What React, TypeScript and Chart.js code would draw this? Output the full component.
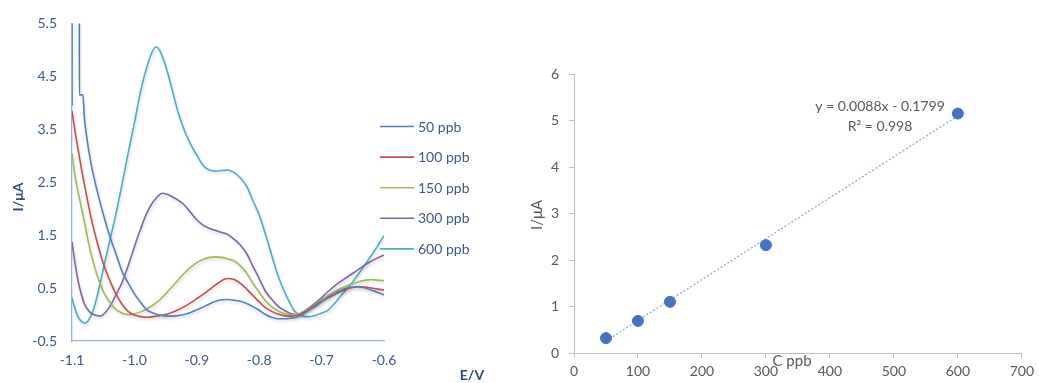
import { useEffect, useRef } from 'react';
import { Chart, registerables } from 'chart.js';

Chart.register(...registerables);

type Pt = [number, number];

// Voltammogram axes: potential (V) and current (µA) tick values
const potentialTicks = [-1.1, -1.0, -0.9, -0.8, -0.7, -0.6];
const currentTicks = [-0.5, 0.5, 1.5, 2.5, 3.5, 4.5, 5.5];

const seriesLabels = ['50 ppb', '100 ppb', '150 ppb', '300 ppb', '600 ppb'];
const seriesColors = ['#4F81BD', '#C0504D', '#9BBB59', '#8064A2', '#4BACC6'];

// [E (V), I (µA)] pairs for each concentration
const curve50: Pt[] = [
  [-1.1, 3.95], [-1.0998, 9], [-1.0885, 9], [-1.0881, 4.15], [-1.0825, 4.15],
  [-1.0803, 3.74], [-1.0774, 3.43], [-1.07, 2.88], [-1.06, 2.35], [-1.05, 1.9],
  [-1.04, 1.5], [-1.03, 1.16], [-1.02, 0.82], [-1.01, 0.6], [-1.0, 0.39],
  [-0.99, 0.23], [-0.98, 0.09], [-0.97, 0.03], [-0.96, -0.01], [-0.95, -0.03],
  [-0.94, -0.03], [-0.93, -0.02], [-0.92, 0.0], [-0.91, 0.04], [-0.9, 0.09],
  [-0.89, 0.14], [-0.88, 0.2], [-0.87, 0.25], [-0.86, 0.28], [-0.85, 0.285],
  [-0.84, 0.27], [-0.83, 0.25], [-0.82, 0.21], [-0.81, 0.15], [-0.8, 0.08],
  [-0.79, 0.0], [-0.78, -0.05], [-0.77, -0.08], [-0.76, -0.08], [-0.75, -0.07],
  [-0.74, -0.05], [-0.73, 0.0], [-0.72, 0.08], [-0.71, 0.15], [-0.7, 0.24],
  [-0.69, 0.33], [-0.68, 0.4], [-0.67, 0.46], [-0.66, 0.5], [-0.65, 0.52],
  [-0.64, 0.52], [-0.63, 0.5], [-0.62, 0.46], [-0.61, 0.42], [-0.6, 0.37],
];

const curve100: Pt[] = [
  [-1.1, 3.85], [-1.095, 3.45], [-1.09, 3.1], [-1.085, 2.76], [-1.08, 2.45],
  [-1.07, 1.86], [-1.06, 1.38], [-1.05, 0.97], [-1.04, 0.66], [-1.03, 0.4],
  [-1.02, 0.2], [-1.01, 0.06], [-1.0, -0.01], [-0.99, -0.04], [-0.98, -0.05],
  [-0.97, -0.04], [-0.96, -0.02], [-0.95, 0.0], [-0.94, 0.04], [-0.93, 0.09],
  [-0.92, 0.15], [-0.91, 0.22], [-0.9, 0.3], [-0.89, 0.38], [-0.88, 0.47],
  [-0.87, 0.56], [-0.86, 0.64], [-0.855, 0.67], [-0.85, 0.68], [-0.84, 0.66],
  [-0.83, 0.59], [-0.82, 0.48], [-0.81, 0.36], [-0.8, 0.24], [-0.79, 0.13],
  [-0.78, 0.06], [-0.77, 0.01], [-0.76, -0.02], [-0.75, -0.03], [-0.74, -0.02],
  [-0.73, 0.03], [-0.72, 0.1], [-0.71, 0.18], [-0.7, 0.25], [-0.69, 0.31],
  [-0.68, 0.37], [-0.67, 0.43], [-0.66, 0.48], [-0.65, 0.51], [-0.64, 0.53],
  [-0.63, 0.52], [-0.62, 0.5], [-0.61, 0.48], [-0.6, 0.46],
];

const curve150: Pt[] = [
  [-1.1, 3.05], [-1.095, 2.6], [-1.09, 2.3], [-1.085, 2.02], [-1.08, 1.74],
  [-1.07, 1.17], [-1.06, 0.75], [-1.05, 0.44], [-1.04, 0.24], [-1.03, 0.1],
  [-1.02, 0.03], [-1.01, 0.0], [-1.0, 0.01], [-0.99, 0.05], [-0.98, 0.11],
  [-0.97, 0.18], [-0.96, 0.27], [-0.95, 0.39], [-0.94, 0.52], [-0.93, 0.65],
  [-0.92, 0.78], [-0.91, 0.89], [-0.9, 0.98], [-0.89, 1.04], [-0.88, 1.08],
  [-0.87, 1.09], [-0.86, 1.08], [-0.85, 1.05], [-0.84, 1.01], [-0.83, 0.92],
  [-0.82, 0.78], [-0.81, 0.59], [-0.8, 0.42], [-0.79, 0.26], [-0.78, 0.15],
  [-0.77, 0.07], [-0.76, 0.02], [-0.75, -0.01], [-0.74, 0.0], [-0.73, 0.05],
  [-0.72, 0.12], [-0.71, 0.2], [-0.7, 0.28], [-0.69, 0.36], [-0.68, 0.43],
  [-0.67, 0.49], [-0.66, 0.54], [-0.65, 0.58], [-0.64, 0.62], [-0.63, 0.65],
  [-0.62, 0.66], [-0.61, 0.65], [-0.6, 0.64],
];

const curve300: Pt[] = [
  [-1.1, 1.37], [-1.095, 0.95], [-1.09, 0.62], [-1.085, 0.38], [-1.08, 0.2],
  [-1.075, 0.1], [-1.07, 0.03], [-1.06, -0.02], [-1.055, -0.03], [-1.05, 0.0],
  [-1.04, 0.14], [-1.03, 0.36], [-1.02, 0.6], [-1.01, 0.92], [-1.0, 1.28],
  [-0.99, 1.62], [-0.98, 1.92], [-0.97, 2.13], [-0.96, 2.26], [-0.955, 2.29],
  [-0.95, 2.28], [-0.94, 2.23], [-0.93, 2.16], [-0.92, 2.07], [-0.91, 1.93],
  [-0.9, 1.79], [-0.89, 1.69], [-0.88, 1.63], [-0.87, 1.59], [-0.86, 1.55],
  [-0.85, 1.51], [-0.84, 1.42], [-0.83, 1.31], [-0.82, 1.15], [-0.81, 0.91],
  [-0.8, 0.68], [-0.79, 0.44], [-0.78, 0.29], [-0.77, 0.16], [-0.76, 0.08],
  [-0.75, 0.02], [-0.74, 0.0], [-0.73, 0.05], [-0.72, 0.13], [-0.71, 0.22],
  [-0.7, 0.32], [-0.69, 0.43], [-0.68, 0.53], [-0.67, 0.62], [-0.66, 0.7],
  [-0.65, 0.78], [-0.64, 0.86], [-0.63, 0.94], [-0.62, 1.01], [-0.61, 1.07],
  [-0.6, 1.12],
];

const curve600: Pt[] = [
  [-1.1, 0.32], [-1.095, 0.1], [-1.09, -0.05], [-1.085, -0.13], [-1.08, -0.16],
  [-1.075, -0.13], [-1.07, -0.03], [-1.065, 0.12], [-1.06, 0.33], [-1.05, 0.85],
  [-1.04, 1.37], [-1.03, 1.88], [-1.02, 2.45], [-1.01, 3.05], [-1.0, 3.62],
  [-0.99, 4.22], [-0.98, 4.68], [-0.97, 5.0], [-0.965, 5.06], [-0.96, 5.0],
  [-0.95, 4.7], [-0.94, 4.27], [-0.93, 3.82], [-0.92, 3.48], [-0.91, 3.22],
  [-0.9, 3.01], [-0.89, 2.82], [-0.88, 2.73], [-0.87, 2.71], [-0.86, 2.72],
  [-0.85, 2.73], [-0.84, 2.68], [-0.83, 2.58], [-0.82, 2.42], [-0.81, 2.15],
  [-0.8, 1.88], [-0.79, 1.52], [-0.78, 1.12], [-0.77, 0.74], [-0.76, 0.44],
  [-0.75, 0.2], [-0.745, 0.09], [-0.74, 0.03], [-0.73, -0.03], [-0.72, -0.04],
  [-0.71, -0.02], [-0.7, 0.03], [-0.69, 0.08], [-0.68, 0.2], [-0.67, 0.34],
  [-0.66, 0.48], [-0.65, 0.62], [-0.64, 0.78], [-0.63, 0.95], [-0.62, 1.12],
  [-0.61, 1.3], [-0.6, 1.49],
];

const curves = [curve50, curve100, curve150, curve300, curve600];

// Calibration: peak current against concentration, with its linear fit
const concentrations = [50, 100, 150, 300, 600];
const peakCurrents = [0.32, 0.69, 1.1, 2.32, 5.15];
const fitSlope = 0.0088;
const fitIntercept = -0.1799;
const fitR2 = 0.998;

const FONT = 'Lato, "Open Sans", sans-serif';
const BLUE_TEXT = '#3B5A86';
const BLUE_TITLE = '#2E4D7B';
const BLUE_AXIS = '#95B3D7';
const GREY_TEXT = '#595959';
const GREY_AXIS = '#BFBFBF';

const voltammogramDecor = {
  id: 'voltammogramDecor',
  beforeDatasetsDraw(chart: any) {
    const ctx = chart.ctx;
    ctx.save();
    ctx.shadowColor = 'rgba(0,0,0,0.16)';
    ctx.shadowBlur = 3;
    ctx.shadowOffsetX = 1;
    ctx.shadowOffsetY = 2;
  },
  afterDatasetsDraw(chart: any) {
    chart.ctx.restore();
  },
  afterDraw(chart: any) {
    const ctx = chart.ctx;
    ctx.save();
    // legend
    ctx.font = `14px ${FONT}`;
    ctx.textBaseline = 'middle';
    ctx.textAlign = 'left';
    seriesLabels.forEach((label, i) => {
      const y = 126.5 + i * 30.6;
      ctx.strokeStyle = seriesColors[i];
      ctx.lineWidth = 1.6;
      ctx.beginPath();
      ctx.moveTo(380, y);
      ctx.lineTo(414, y);
      ctx.stroke();
      ctx.fillStyle = BLUE_TEXT;
      ctx.fillText(label, 418, y + 0.5);
    });
    // axis titles
    ctx.fillStyle = BLUE_TITLE;
    ctx.font = `bold 14px ${FONT}`;
    ctx.textAlign = 'center';
    ctx.fillText('E/V', 472, 375);
    ctx.translate(18, 197);
    ctx.rotate(-Math.PI / 2);
    ctx.fillText('I/\u03BCA', 0, 0);
    ctx.restore();
  },
};

const calibrationDecor = {
  id: 'calibrationDecor',
  afterDraw(chart: any) {
    const ctx = chart.ctx;
    ctx.save();
    ctx.fillStyle = GREY_TEXT;
    ctx.textAlign = 'center';
    ctx.textBaseline = 'middle';
    ctx.font = `14px ${FONT}`;
    ctx.fillText(`y = ${fitSlope}x - ${Math.abs(fitIntercept)}`, 360, 106.5);
    ctx.fillText(`R\u00B2 = ${fitR2}`, 360, 126);
    ctx.font = `15px ${FONT}`;
    ctx.fillText('C ppb', 272, 361);
    ctx.translate(17.5, 215);
    ctx.rotate(-Math.PI / 2);
    ctx.fillText('I/\u03BCA', 0, 0);
    ctx.restore();
  },
};

function VoltammogramChart() {
  const ref = useRef<HTMLCanvasElement>(null);
  useEffect(() => {
    if (!ref.current) return;
    const chart = new Chart(ref.current, {
      type: 'line',
      data: {
        datasets: curves.map((c, i) => ({
          label: seriesLabels[i],
          data: c.map(([x, y]) => ({ x, y })),
          borderColor: seriesColors[i],
          backgroundColor: seriesColors[i],
          borderWidth: 1.6,
          pointRadius: 0,
          cubicInterpolationMode: 'monotone',
          fill: false,
        })),
      },
      options: {
        animation: false,
        responsive: false,
        events: [],
        layout: { padding: { left: 0, right: 136, top: 19, bottom: 0 } },
        plugins: { legend: { display: false }, tooltip: { enabled: false } },
        scales: {
          x: {
            type: 'linear',
            min: -1.1,
            max: -0.6,
            afterBuildTicks: (s: any) => {
              s.ticks = potentialTicks.map((v) => ({ value: v }));
            },
            afterFit: (s: any) => {
              s.height = 42;
            },
            grid: { display: false, drawTicks: false },
            border: { display: true, color: BLUE_AXIS, width: 1.3 },
            ticks: {
              color: BLUE_TEXT,
              font: { family: FONT, size: 14 },
              padding: 11,
              maxRotation: 0,
              autoSkip: false,
              callback: (v: any) => Number(v).toFixed(1),
            },
          },
          y: {
            type: 'linear',
            min: -0.5,
            max: 5.5,
            afterBuildTicks: (s: any) => {
              s.ticks = currentTicks.map((v) => ({ value: v }));
            },
            afterFit: (s: any) => {
              s.width = 72;
            },
            grid: { display: false, drawTicks: false },
            border: { display: true, color: BLUE_AXIS, width: 1.3 },
            ticks: {
              color: BLUE_TEXT,
              font: { family: FONT, size: 14 },
              padding: 15,
              autoSkip: false,
              callback: (v: any) => Number(v).toFixed(1),
            },
          },
        },
      },
      plugins: [voltammogramDecor],
    } as any);
    return () => chart.destroy();
  }, []);
  return <canvas ref={ref} width={520} height={383} style={{ width: 520, height: 383, display: 'block' }} />;
}

function CalibrationChart() {
  const ref = useRef<HTMLCanvasElement>(null);
  useEffect(() => {
    if (!ref.current) return;
    const first = concentrations[0];
    const last = concentrations[concentrations.length - 1];
    const chart = new Chart(ref.current, {
      type: 'scatter',
      data: {
        datasets: [
          {
            type: 'scatter',
            label: 'I',
            data: concentrations.map((c, i) => ({ x: c, y: peakCurrents[i] })),
            backgroundColor: '#4472C4',
            borderColor: '#4472C4',
            pointRadius: 5.5,
            order: 0,
          },
          {
            type: 'line',
            label: 'fit',
            data: [
              { x: first, y: fitSlope * first + fitIntercept },
              { x: last, y: fitSlope * last + fitIntercept },
            ],
            borderColor: '#8EAADB',
            borderWidth: 1.3,
            borderDash: [2, 2],
            pointRadius: 0,
            fill: false,
            order: 1,
          },
        ],
      },
      options: {
        animation: false,
        responsive: false,
        events: [],
        layout: { padding: { left: 0, right: 14, top: 74, bottom: 0 } },
        plugins: { legend: { display: false }, tooltip: { enabled: false } },
        scales: {
          x: {
            type: 'linear',
            min: 0,
            max: 700,
            afterFit: (s: any) => {
              s.height = 30;
            },
            grid: { display: true, drawOnChartArea: false, drawTicks: true, tickLength: 5, color: GREY_AXIS },
            border: { display: true, color: GREY_AXIS, width: 1 },
            ticks: {
              stepSize: 100,
              color: GREY_TEXT,
              font: { family: FONT, size: 14 },
              padding: 5,
              maxRotation: 0,
              autoSkip: false,
            },
          },
          y: {
            type: 'linear',
            min: 0,
            max: 6,
            afterFit: (s: any) => {
              s.width = 54;
            },
            grid: { display: true, drawOnChartArea: false, drawTicks: true, tickLength: 5, color: GREY_AXIS },
            border: { display: true, color: GREY_AXIS, width: 1 },
            ticks: {
              stepSize: 1,
              color: GREY_TEXT,
              font: { family: FONT, size: 14 },
              padding: 10,
            },
          },
        },
      },
      plugins: [calibrationDecor],
    } as any);
    return () => chart.destroy();
  }, []);
  return <canvas ref={ref} width={519} height={383} style={{ width: 519, height: 383, display: 'block' }} />;
}

export default function App() {
  return (
    <div style={{ position: 'absolute', left: 0, top: 0, width: 1039, height: 383, background: '#fff' }}>
      <div style={{ position: 'absolute', left: 0, top: 0, width: 520, height: 383 }}>
        <VoltammogramChart />
      </div>
      <div style={{ position: 'absolute', left: 520, top: 0, width: 519, height: 383 }}>
        <CalibrationChart />
      </div>
    </div>
  );
}
